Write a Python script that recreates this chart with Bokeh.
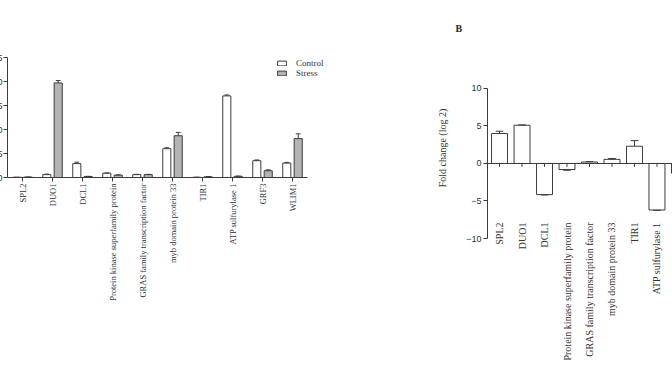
import math
import numpy as np
from bokeh.plotting import figure
from bokeh.models import (Range1d, FixedTicker, Span, Legend, LegendItem)
from bokeh.layouts import row
from bokeh.embed import file_html
from bokeh.resources import INLINE

# ---------------- data ----------------
genes = ["SPL2", "DUO1", "DCL1", "Protein kinase superfamily protein",
         "GRAS family transcription factor", "myb domain protein 33", "TIR1",
         "ATP sulfurylase 1", "GRF3", "WLIM1"]
control = [0.05, 0.6, 2.9, 0.9, 0.6, 6.0, 0.05, 17.0, 3.5, 3.0]
control_err = [0.0, 0.1, 0.3, 0.05, 0.05, 0.2, 0.0, 0.2, 0.15, 0.15]
stress = [0.1, 19.7, 0.2, 0.5, 0.6, 8.7, 0.15, 0.25, 1.4, 8.1]
stress_err = [0.0, 0.5, 0.05, 0.05, 0.05, 0.7, 0.05, 0.05, 0.2, 1.0]
fold_change = [4.0, 5.1, -4.15, -0.8, 0.2, 0.55, 2.3, -6.2, -1.3, 1.4]
fold_err = [0.3, 0.05, 0.05, 0.1, 0.05, 0.12, 0.75, 0.05, 0.1, 0.4]
left_ticks = [0, 5, 10, 15, 20, 25]
right_ticks = [-10, -5, 0, 5, 10]
series_names = ["Control", "Stress"]

LINE = "#3c3c3c"
TXT = "#333333"
GRAY = "#b4b4b4"
idx = np.arange(len(genes))
labels = {int(i): g for i, g in zip(idx, genes)}
SHIFT = 14  # panel A is cropped on its left side, as in the source figure


def err_bars(p, xs, vals, errs, half_cap):
    xs = np.asarray(xs, dtype=float)
    vals = np.asarray(vals, dtype=float)
    errs = np.asarray(errs, dtype=float)
    ends = vals + np.sign(vals) * errs
    p.segment(x0=xs, x1=xs, y0=vals, y1=ends, line_color=LINE, line_width=1)
    p.segment(x0=xs - half_cap, x1=xs + half_cap, y0=ends, y1=ends,
              line_color=LINE, line_width=1)


def label_axis(ax, size, standoff):
    ax.ticker = FixedTicker(ticks=list(idx))
    ax.major_label_overrides = labels
    ax.major_label_orientation = math.pi / 2
    ax.major_tick_out = 0
    ax.major_tick_in = 0
    ax.major_tick_line_color = None
    ax.minor_tick_line_color = None
    ax.axis_line_color = None
    ax.major_label_standoff = standoff
    ax.major_label_text_font = "Liberation Serif"
    ax.major_label_text_font_size = size
    ax.major_label_text_color = TXT


TOP, BOTTOM = 57, 134

# ---------------- panel A ----------------
pa = figure(width=400 + SHIFT, height=372, x_range=Range1d(-0.5, 10.6),
            y_range=Range1d(-12.708, 25),
            output_backend="svg", toolbar_location=None,
            min_border_left=7 + SHIFT, min_border_right=60, min_border_top=TOP,
            min_border_bottom=BOTTOM)
pa.outline_line_color = None
pa.grid.visible = False

off, bw = 0.19, 0.27
rc = pa.vbar(x=idx - off, top=control, width=bw, fill_color="white", line_color=LINE)
rs = pa.vbar(x=idx + off, top=stress, width=bw, fill_color=GRAY, line_color=LINE)
err_bars(pa, idx - off, control, control_err, 0.08)
err_bars(pa, idx + off, stress, stress_err, 0.08)
# category axis baseline spans the categories only
pa.segment(x0=[idx[0] - 0.5], x1=[idx[-1] + 0.5], y0=[0], y1=[0],
           line_color=LINE, line_width=1)
pa.segment(x0=idx, x1=idx, y0=0, y1=-0.83, line_color=LINE, line_width=1)

ya = pa.yaxis[0]
ya.ticker = FixedTicker(ticks=left_ticks)
ya.bounds = (0, 25)
ya.major_tick_out = 4
ya.major_tick_in = 0
ya.minor_tick_line_color = None
ya.major_label_standoff = 1
ya.major_label_text_font = "Liberation Sans"
ya.major_label_text_font_size = "9px"
ya.major_label_text_color = TXT
ya.axis_line_color = LINE
ya.major_tick_line_color = LINE

label_axis(pa.xaxis[0], "8.5px", -55)

legend = Legend(items=[LegendItem(label=series_names[0], renderers=[rc]),
                       LegendItem(label=series_names[1], renderers=[rs])],
                location=(269, 160), orientation="vertical",
                glyph_width=11, glyph_height=6, label_standoff=9, spacing=0,
                padding=0, margin=0, border_line_color=None,
                background_fill_alpha=0, label_text_font="Liberation Serif",
                label_text_font_size="9px", label_height=10,
                label_text_color=TXT)
pa.add_layout(legend)

# ---------------- panel B ----------------
pb = figure(width=272, height=372, x_range=Range1d(-0.535, 7.69),
            y_range=Range1d(-10, 14.133), output_backend="svg",
            toolbar_location=None,
            min_border_left=87, min_border_right=0, min_border_top=TOP,
            min_border_bottom=BOTTOM)
pb.outline_line_color = None
pb.grid.visible = False

pb.vbar(x=idx, top=fold_change, bottom=0, width=0.71, fill_color="white",
        line_color=LINE)
err_bars(pb, idx, fold_change, fold_err, 0.17)
pb.add_layout(Span(location=0, dimension="width", line_color=LINE, line_width=1))
pb.segment(x0=idx, x1=idx, y0=0, y1=-0.45, line_color=LINE, line_width=1)

yb = pb.yaxis[0]
yb.ticker = FixedTicker(ticks=right_ticks)
yb.bounds = (-10, 10)
yb.major_tick_out = 4
yb.major_tick_in = 0
yb.minor_tick_line_color = None
yb.major_label_standoff = 2
yb.major_label_text_font = "Liberation Sans"
yb.major_label_text_font_size = "9px"
yb.major_label_text_color = TXT
yb.axis_line_color = LINE
yb.major_tick_line_color = LINE
yb.axis_label = "Fold change (log 2)"
yb.axis_label_text_font = "Liberation Serif"
yb.axis_label_text_font_size = "10px"
yb.axis_label_text_font_style = "normal"
yb.axis_label_text_color = TXT
yb.axis_label_standoff = 15

label_axis(pb.xaxis[0], "10px", -16)

pb.title.text = "B"
pb.title.align = "left"
pb.title.vertical_align = "top"
pb.title.offset = -32
pb.title.standoff = 44
pb.title.text_font = "Liberation Serif"
pb.title.text_font_style = "bold"
pb.title.text_font_size = "10px"
pb.title.text_color = "#222222"

layout = row(pa, pb, styles={"margin-left": f"-{SHIFT}px"})
open("out.html", "w").write(file_html(layout, INLINE))
